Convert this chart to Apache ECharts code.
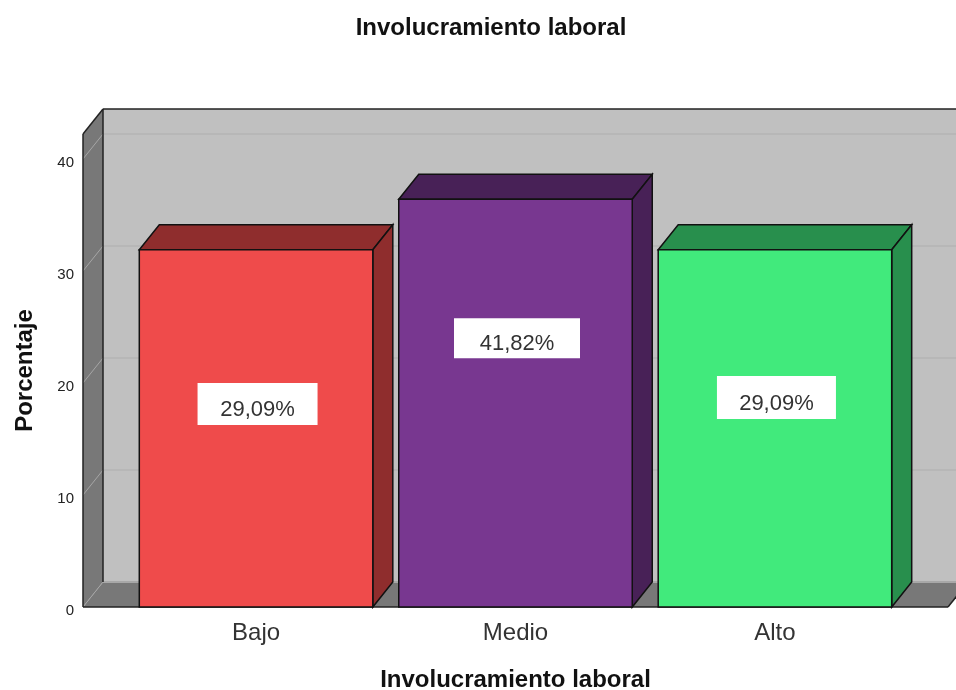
<!DOCTYPE html>
<html>
<head>
<meta charset="utf-8">
<title>Involucramiento laboral</title>
<script src="https://cdn.jsdelivr.net/npm/echarts@6/dist/echarts.min.js"></script>
<style>
  html, body { margin: 0; padding: 0; background: #fff; }
  #chart { width: 956px; height: 690px; }
</style>
</head>
<body>
<div id="chart"></div>
<script>
var categories = ['Bajo', 'Medio', 'Alto'];
// bar heights as drawn against the axis, the printed labels differ from them
var values = [31.9, 36.4, 31.9];
var labels = ['29,09%', '41,82%', '29,09%'];
var yTicks = [0, 10, 20, 30, 40];

var frontColors = ['#ef4b4b', '#783790', '#41ea7c'];
var darkColors = ['#8f2d2d', '#482157', '#288f4d'];
// white label boxes: centre of the box in axis units, size in px
var labelY = [18.13, 24.0, 18.7];
var labelW = [120, 126, 119];
var labelH = [42, 40, 43];

var font = '"Liberation Sans", Arial, sans-serif';
var depthX = 20, depthY = -25;
var xMin = -0.667, xMax = 2.667, yMax = 42.23;

function poly(points, fill, stroke, width) {
    return {
        type: 'polygon',
        shape: { points: points },
        style: { fill: fill, stroke: stroke || null, lineWidth: width || 0 }
    };
}

function line(a, b, color, width) {
    return {
        type: 'line',
        shape: { x1: a[0], y1: a[1], x2: b[0], y2: b[1] },
        style: { stroke: color, lineWidth: width, fill: null }
    };
}

function back(p) {
    return [p[0] + depthX, p[1] + depthY];
}

function renderWalls(params, api) {
    var bl = api.coord([xMin, 0]);
    var br = api.coord([xMax, 0]);
    var tl = api.coord([xMin, yMax]);
    var tr = api.coord([xMax, yMax]);
    var children = [];
    children.push(poly([back(tl), back(tr), back(br), back(bl)], '#c0c0c0'));
    children.push(poly([tl, back(tl), back(bl), bl], '#787878'));
    children.push(poly([bl, back(bl), back(br), br], '#787878'));
    yTicks.forEach(function (t) {
        var a = api.coord([xMin, t]);
        var b = api.coord([xMax, t]);
        children.push(line(a, back(a), '#a6a6a6', 1));
        children.push(line(back(a), back(b), t === 0 ? '#a8a8a8' : '#b4b4b4', t === 0 ? 2 : 1.5));
    });
    children.push(line(back(tl), back(tr), '#222', 1.5));
    children.push(line(tl, back(tl), '#222', 1.5));
    children.push(line(tl, bl, '#222', 1.5));
    children.push(line(back(tl), back(bl), '#222', 1.5));
    children.push(line(bl, br, '#222', 1.5));
    children.push(line(br, back(br), '#222', 1.5));
    return { type: 'group', children: children };
}

function renderBar(params, api) {
    var i = params.dataIndex;
    var w = api.size([0.9, 0])[0];
    var top = api.coord([api.value(0), api.value(1)]);
    var base = api.coord([api.value(0), 0]);
    var x0 = top[0] - w / 2, x1 = top[0] + w / 2;
    var tl = [x0, top[1]], tr = [x1, top[1]], br = [x1, base[1]], bl = [x0, base[1]];
    return {
        type: 'group',
        children: [
            poly([tl, back(tl), back(tr), tr], darkColors[i], '#111', 1.5),
            poly([tr, back(tr), back(br), br], darkColors[i], '#111', 1.5),
            poly([tl, tr, br, bl], frontColors[i], '#111', 1.5)
        ]
    };
}

function renderLabel(params, api) {
    var i = params.dataIndex;
    var c = api.coord([api.value(0), labelY[i]]);
    var cx = c[0] + 1.5;
    return {
        type: 'group',
        children: [
            {
                type: 'rect',
                shape: { x: cx - labelW[i] / 2, y: c[1] - labelH[i] / 2, width: labelW[i], height: labelH[i] },
                style: { fill: '#fff' }
            },
            {
                type: 'text',
                style: {
                    x: cx, y: c[1] + 6,
                    text: labels[i],
                    fill: '#333',
                    font: '22px ' + font,
                    align: 'center',
                    verticalAlign: 'middle'
                }
            }
        ]
    };
}

var myChart = echarts.init(document.getElementById('chart'));

var barData = values.map(function (v, i) { return [i, v]; });

option = {
    animation: false,
    backgroundColor: '#fff',
    title: {
        text: 'Involucramiento laboral',
        left: 486,
        top: 11,
        textAlign: 'center',
        textStyle: { fontFamily: font, fontSize: 24, fontWeight: 'bold', color: '#111' }
    },
    grid: { left: 83, top: 134, width: 865, height: 473, outerBoundsMode: 'none' },
    xAxis: {
        type: 'value',
        min: xMin,
        max: xMax,
        name: 'Involucramiento laboral',
        nameLocation: 'middle',
        nameGap: 61,
        nameTextStyle: { fontFamily: font, fontSize: 24, fontWeight: 'bold', color: '#111' },
        axisLine: { show: false },
        axisTick: { show: false },
        splitLine: { show: false },
        axisLabel: {
            customValues: [0, 1, 2],
            margin: 14,
            fontFamily: font,
            fontSize: 24,
            color: '#333',
            formatter: function (v) { return categories[v]; }
        }
    },
    yAxis: {
        type: 'value',
        min: 0,
        max: yMax,
        name: 'Porcentaje',
        nameLocation: 'middle',
        nameGap: 46,
        nameTextStyle: { fontFamily: font, fontSize: 24, fontWeight: 'bold', color: '#111' },
        axisLine: { show: false },
        axisTick: { show: false },
        splitLine: { show: false },
        axisLabel: {
            customValues: yTicks,
            margin: 9,
            verticalAlign: 'top',
            lineHeight: 7,
            fontFamily: font,
            fontSize: 15,
            color: '#222'
        }
    },
    series: [
        { type: 'custom', z: 1, renderItem: renderWalls, data: [[0, 0]], silent: true },
        { type: 'custom', z: 2, renderItem: renderBar, data: barData, encode: { x: 0, y: 1 } },
        { type: 'custom', z: 3, renderItem: renderLabel, data: barData, encode: { x: 0, y: 1 } }
    ]
};

myChart.setOption(option);
window.addEventListener('resize', function () {
    myChart.resize();
});
</script>
</body>
</html>
